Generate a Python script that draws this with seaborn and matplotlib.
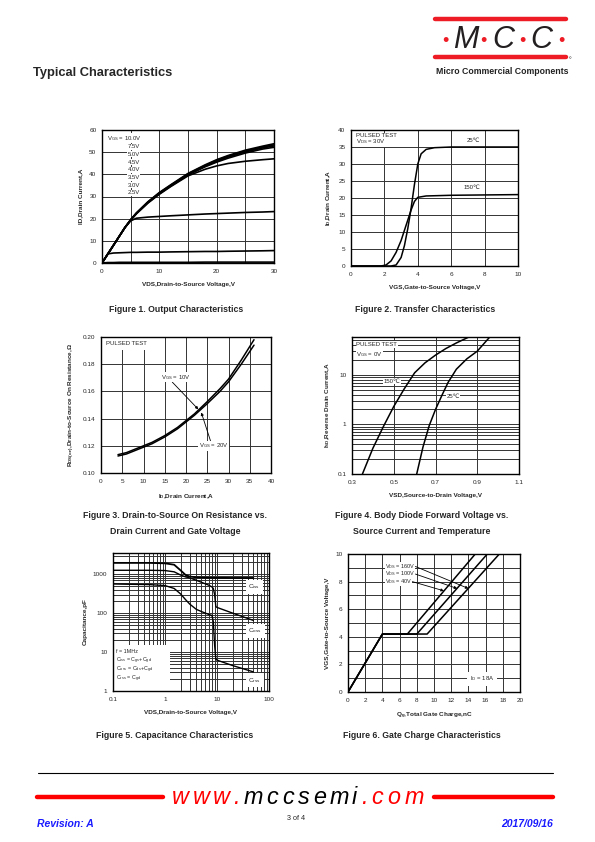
import numpy as np
import pandas as pd
import seaborn as sns
import matplotlib.pyplot as plt
from matplotlib.ticker import FixedLocator, NullFormatter

# ---- data ----
# Figure 1: output characteristics (VDS vs ID for each VGS)
vds = [0, 1, 2, 3, 4, 5, 6, 8, 10, 12, 15, 18, 20, 22, 25, 28, 30]
id_10v = [0, 4, 8, 12, 16, 19.6, 22.6, 27.6, 31.8, 35.3, 40.4, 44.3, 46.6, 48.5, 50.9, 52.7, 53.8]
id_75v = [0, 4, 8, 12, 16, 19.5, 22.5, 27.5, 31.6, 35.1, 40.2, 44.0, 46.3, 48.2, 50.5, 52.3, 53.3]
id_50v = [0, 4, 8, 12, 16, 19.4, 22.4, 27.3, 31.4, 34.9, 40.0, 43.7, 45.9, 47.8, 50.1, 51.9, 52.8]
id_45v = [0, 4, 8, 12, 16, 19.3, 22.3, 27.2, 31.2, 34.7, 39.7, 43.4, 45.5, 47.3, 49.6, 51.4, 52.2]
id_40v = [0, 4, 8, 12, 16, 19.3, 22.2, 27.0, 31.0, 34.5, 39.3, 42.3, 43.8, 44.9, 45.9, 46.6, 47.0]
id_35v = [0, 4, 8, 12, 16, 19.0, 20.2, 20.7, 21.0, 21.3, 21.7, 22.1, 22.3, 22.5, 22.8, 23.0, 23.2]
id_30v = [0, 4.1, 4.5, 4.6, 4.7, 4.8, 4.8, 4.9, 4.9, 5.0, 5.1, 5.2, 5.2, 5.3, 5.4, 5.5, 5.6]
id_25v = [0, 0.2, 0.2, 0.3, 0.3, 0.3, 0.3, 0.3, 0.3, 0.3, 0.3, 0.4, 0.4, 0.4, 0.4, 0.4, 0.4]
vgs_labels = ["7.5V", "5.0V", "4.5V", "4.0V", "3.5V", "3.0V", "2.5V"]

# Figure 2: transfer characteristics
vgs_25 = [0, 2.4, 2.7, 3.0, 3.2, 3.4, 3.6, 3.8, 4.0, 4.2, 4.5, 5.0, 6.0, 10.0]
id_25 = [0, 0, 0.3, 2.5, 6, 11, 17, 24, 30, 33, 34.3, 34.8, 35.0, 35.0]
vgs_150 = [0, 1.8, 2.1, 2.4, 2.7, 3.0, 3.3, 3.6, 3.8, 4.0, 4.5, 6.0, 10.0]
id_150 = [0, 0, 0.3, 1.5, 4, 7.5, 12, 16.5, 19, 20.2, 20.6, 20.8, 21.0]

# Figure 3: on resistance vs drain current
id_r = [4, 6, 8, 10, 12, 15, 18, 20, 22, 25, 28, 30, 33, 36]
rds_10v = [0.1135, 0.115, 0.1175, 0.120, 0.1225, 0.1275, 0.1335, 0.1385, 0.1435, 0.1525, 0.162, 0.169, 0.183, 0.198]
rds_20v = [0.1125, 0.114, 0.1165, 0.119, 0.1215, 0.1265, 0.1325, 0.1375, 0.1425, 0.1510, 0.160, 0.167, 0.180, 0.194]

# Figure 4: body diode forward voltage
vsd_150 = [0.35, 0.40, 0.45, 0.50, 0.55, 0.60, 0.65, 0.70, 0.75, 0.80, 0.86]
isd_150 = [0.1, 0.33, 0.9, 2.3, 5.2, 11, 17.5, 25, 34, 44, 58]
vsd_25 = [0.61, 0.64, 0.67, 0.70, 0.73, 0.76, 0.80, 0.85, 0.90, 0.96]
isd_25 = [0.1, 0.35, 0.95, 2.0, 3.8, 7, 13, 21, 30, 58]

# Figure 5: capacitance
vds_c = [0.1, 0.5, 1, 1.5, 2, 2.5, 3, 4, 5, 7, 8, 8.5, 9, 9.5, 10, 20, 50]
ciss = [1950, 1950, 1900, 1750, 1250, 950, 870, 830, 820, 810, 810, 805, 805, 805, 805, 800, 800]
coss = [1260, 1260, 1240, 1150, 950, 850, 800, 700, 620, 520, 470, 430, 300, 148, 140, 100, 65]
crss = [560, 540, 510, 430, 310, 220, 170, 125, 110, 92, 87, 60, 15, 6.6, 6.2, 4.5, 3.1]
cap_notes = ['f = 1MHz', 'C$_{iss}$ = C$_{gs}$+C$_{gd}$', 'C$_{oss}$ = C$_{ds}$+C$_{gd}$', 'C$_{rss}$ = C$_{gd}$']

# Figure 6: gate charge
qg_40 = [0, 4, 6.9, 14.8]
qg_100 = [0, 4, 8.0, 16.2]
qg_160 = [0, 4, 9.2, 17.6]
vgs_q = [0, 4.2, 4.2, 10]

sns.set_style("white")
plt.rcParams['font.family'] = ['Liberation Sans', 'DejaVu Sans']
plt.rcParams['mathtext.fontset'] = 'custom'
plt.rcParams['mathtext.rm'] = 'Liberation Sans'
plt.rcParams['mathtext.it'] = 'Liberation Sans:italic'
plt.rcParams['mathtext.bf'] = 'Liberation Sans:bold'
plt.rcParams['mathtext.default'] = 'regular'

W, H = 595, 842
fig = plt.figure(figsize=(W / 100, H / 100), dpi=100)
fig.patch.set_facecolor('white')

TICK = 4.6
LAB = 4.6
FAM = ['Liberation Sans', 'DejaVu Sans']
BOX = dict(fc='white', ec='none', pad=0.4)
TZ = 2.2  # boxed texts sit below the spines


def ax_px(l, t, r, b):
    return fig.add_axes([l / W, 1 - b / H, (r - l) / W, (b - t) / H])


def style(ax, xlabel, ylabel):
    for s in ax.spines.values():
        s.set_color('black')
        s.set_linewidth(1.0)
    ax.tick_params(labelsize=TICK, length=1.5, width=0.6, pad=2.5, which='major')
    ax.tick_params(which='minor', length=0)
    ax.set_xlabel(xlabel, fontsize=LAB, fontweight='bold', labelpad=6)
    ax.set_ylabel(ylabel, fontsize=LAB, fontweight='bold', labelpad=4)
    ax.set_axisbelow(True)


def line(ax, x, y, lw=1.1):
    sns.lineplot(x=x, y=y, ax=ax, color='black', lw=lw, estimator=None, sort=False, legend=False)


def px_text(x, y, s, **kw):
    fig.text(x / W, 1 - y / H, s, **kw)


# ---- Figure 1 ----
ax1 = ax_px(102, 130, 274, 263)
ax1.set_xlim(0, 30)
ax1.set_ylim(0, 60)
ax1.set_xticks([0, 10, 20, 30])
ax1.set_yticks(range(0, 61, 10))
ax1.xaxis.set_minor_locator(FixedLocator([5, 15, 25]))
ax1.grid(True, which='both', color='#333333', lw=0.7)
for ys in [id_10v, id_75v, id_50v, id_45v, id_40v, id_35v, id_30v, id_25v]:
    line(ax1, vds, ys, lw=1.2)
ax1.text(0.9, 56.3, 'V$_{GS}$ = 10.0V', fontsize=4.3, va='center', bbox=BOX, zorder=TZ)
for i, lab in enumerate(vgs_labels):
    ax1.text(6.6, 52.5 - i * 3.48, lab, fontsize=4.3, ha='right', va='center', bbox=BOX, zorder=TZ)
style(ax1, 'VDS,Drain-to-Source Voltage,V', 'ID,Drain Current,A')

# ---- Figure 2 ----
ax2 = ax_px(351, 130, 518, 266)
ax2.set_xlim(0, 10)
ax2.set_ylim(0, 40)
ax2.set_xticks(range(0, 11, 2))
ax2.set_yticks(range(0, 41, 5))
ax2.grid(True, color='#333333', lw=0.7)
line(ax2, vgs_25, id_25)
line(ax2, vgs_150, id_150)
ax2.text(0.28, 38.3, 'PULSED TEST', fontsize=4.3, va='center', bbox=BOX, zorder=TZ)
ax2.text(0.28, 36.6, 'V$_{DS}$ = 30V', fontsize=4.3, va='center', bbox=BOX, zorder=TZ)
ax2.text(6.95, 37.0, '25℃', fontsize=4.3, family=FAM, va='center', bbox=BOX, zorder=TZ)
ax2.text(6.75, 23.2, '150℃', fontsize=4.3, family=FAM, va='center', bbox=BOX, zorder=TZ)
style(ax2, 'VGS,Gate-to-Source Voltage,V', 'I$_D$,Drain Current,A')

# ---- Figure 3 ----
ax3 = ax_px(101, 337, 271, 473)
ax3.set_xlim(0, 40)
ax3.set_ylim(0.10, 0.20)
ax3.set_xticks(range(0, 41, 5))
ax3.set_yticks([0.10, 0.12, 0.14, 0.16, 0.18, 0.20])
ax3.set_yticklabels(['0.10', '0.12', '0.14', '0.16', '0.18', '0.20'])
ax3.grid(True, color='#333333', lw=0.7)
line(ax3, id_r, rds_10v)
line(ax3, id_r, rds_20v)
ax3.text(1.2, 0.1955, 'PULSED TEST', fontsize=4.3, va='center',
         bbox=dict(fc='white', ec='none', pad=3), zorder=TZ)
ax3.annotate('V$_{GS}$ = 10V', xy=(22.9, 0.1468), xytext=(14.2, 0.1705), fontsize=4.3,
             va='center', bbox=BOX, zorder=TZ,
             arrowprops=dict(arrowstyle='-|>', lw=0.6, color='black', mutation_scale=4,
                             shrinkA=0, shrinkB=0, relpos=(0.35, 0)))
ax3.annotate('V$_{GS}$ = 20V', xy=(23.6, 0.1445), xytext=(23.0, 0.1200), fontsize=4.3,
             va='center', bbox=BOX, zorder=TZ,
             arrowprops=dict(arrowstyle='-|>', lw=0.6, color='black', mutation_scale=4,
                             shrinkA=0, shrinkB=0, relpos=(0.4, 1)))
style(ax3, 'I$_D$,Drain Current,A', 'R$_{DS(on)}$,Drain-to-Source On Resistance,Ω')

# ---- Figure 4 ----
ax4 = ax_px(352, 337, 519, 474)
ax4.set_yscale('log')
ax4.set_xlim(0.3, 1.1)
ax4.set_ylim(0.1, 58)
ax4.set_xticks([0.3, 0.5, 0.7, 0.9, 1.1])
ax4.set_xticklabels(['0.3', '0.5', '0.7', '0.9', '1.1'])
ax4.yaxis.set_major_locator(FixedLocator([0.1, 1, 10]))
ax4.set_yticklabels(['0.1', '1', '10'])
ax4.yaxis.set_minor_locator(FixedLocator([0.2, 0.3, 0.4, 0.5, 0.6, 0.7, 0.8, 0.9,
                                          2, 3, 4, 5, 6, 7, 8, 9, 20, 30, 40, 50]))
ax4.yaxis.set_minor_formatter(NullFormatter())
ax4.grid(True, axis='y', which='both', color='#333333', lw=0.7)
for xv in [0.5, 0.7, 0.9]:
    ax4.axvline(xv, color='#333333', lw=0.7, zorder=0.5)
line(ax4, vsd_150, isd_150)
line(ax4, vsd_25, isd_25)
ax4.text(0.32, 41, 'PULSED TEST', fontsize=4.3, va='center', bbox=BOX, zorder=TZ)
ax4.text(0.32, 26, 'V$_{GS}$ = 0V', fontsize=4.3, va='center', bbox=BOX, zorder=TZ)
ax4.text(0.45, 7.4, '150℃', fontsize=4.3, family=FAM, va='center', bbox=BOX, zorder=TZ)
ax4.text(0.752, 3.7, '25℃', fontsize=4.3, family=FAM, va='center', bbox=BOX, zorder=TZ)
style(ax4, 'VSD,Source-to-Drain Voltage,V', 'I$_{SD}$,Reverse Drain Current,A')

# ---- Figure 5 ----
ax5 = ax_px(113, 553, 269, 691)
ax5.set_xscale('log')
ax5.set_yscale('log')
ax5.set_xlim(0.1, 100)
ax5.set_ylim(1, 3500)
ax5.xaxis.set_major_locator(FixedLocator([0.1, 1, 10, 100]))
ax5.set_xticklabels(['0.1', '1', '10', '100'])
ax5.yaxis.set_major_locator(FixedLocator([1, 10, 100, 1000]))
ax5.set_yticklabels(['1', '10', '100', '1000'])
ax5.xaxis.set_minor_locator(FixedLocator([m * d for d in [0.1, 1, 10] for m in range(2, 10)]))
ax5.yaxis.set_minor_locator(FixedLocator([m * d for d in [1, 10, 100] for m in range(2, 10)] + [2000, 3000]))
ax5.xaxis.set_minor_formatter(NullFormatter())
ax5.yaxis.set_minor_formatter(NullFormatter())
ax5.grid(True, which='both', color='#333333', lw=0.7)
line(ax5, vds_c, ciss, lw=1.3)
line(ax5, vds_c, coss, lw=1.0)
line(ax5, vds_c, crss, lw=1.0)
cbox = dict(fc='white', ec='none', pad=2)
ax5.text(40, 470, 'C$_{iss}$', fontsize=4.6, va='center', bbox=cbox, zorder=TZ)
ax5.text(40, 35, 'C$_{oss}$', fontsize=4.6, va='center', bbox=cbox, zorder=TZ)
ax5.text(40, 1.9, 'C$_{rss}$', fontsize=4.6, va='center', bbox=cbox, zorder=TZ)
# white panel behind the notes
ax5.axvspan(0.1, 1.25, ymin=0.0, ymax=0.33, color='white', lw=0, zorder=1.5)
for yv, note in zip([10.2, 6.0, 3.5, 2.0], cap_notes):
    ax5.text(0.115, yv, note, fontsize=3.9, va='center', zorder=TZ)
style(ax5, 'VDS,Drain-to-Source Voltage,V', 'Capacitance,pF')

# ---- Figure 6 ----
ax6 = ax_px(348, 554, 520, 692)
ax6.set_xlim(0, 20)
ax6.set_ylim(0, 10)
ax6.set_xticks(range(0, 21, 2))
ax6.set_yticks(range(0, 11, 2))
ax6.yaxis.set_minor_locator(FixedLocator([1, 3, 5, 7, 9]))
ax6.grid(True, which='both', color='#333333', lw=0.7)
line(ax6, qg_40, vgs_q)
line(ax6, qg_100, vgs_q)
line(ax6, qg_160, vgs_q)
arrow = dict(arrowstyle='-|>', lw=0.6, color='black', mutation_scale=4, shrinkA=0, shrinkB=0,
             relpos=(1, 0.5))
sbox = dict(fc='white', ec='none', pad=0.1)
ax6.annotate('V$_{DS}$ = 160V', xy=(14.0, 7.5), xytext=(4.3, 9.1), fontsize=4.0, va='center',
             bbox=sbox, arrowprops=arrow, zorder=TZ)
ax6.annotate('V$_{DS}$ = 100V', xy=(12.7, 7.5), xytext=(4.3, 8.55), fontsize=4.0, va='center',
             bbox=sbox, arrowprops=arrow, zorder=TZ)
ax6.annotate('V$_{DS}$ = 40V', xy=(11.15, 7.33), xytext=(4.3, 8.0), fontsize=4.0, va='center',
             bbox=sbox, arrowprops=arrow, zorder=TZ)
ax6.text(14.2, 0.95, 'I$_D$ = 18A', fontsize=4.3, va='center', bbox=cbox, zorder=TZ)
style(ax6, 'Q$_g$,Total Gate Charge,nC', 'VGS,Gate-to-Source Voltage,V')

# ---- captions ----
cap = dict(fontsize=6.3, fontweight='bold', ha='center', va='center')
px_text(176, 309, 'Figure 1. Output Characteristics', **cap)
px_text(425, 309, 'Figure 2. Transfer Characteristics', **cap)
px_text(175, 516, 'Figure 3. Drain-to-Source On Resistance vs.', **cap)
px_text(175, 531, 'Drain Current and Gate Voltage', **cap)
px_text(422, 516, 'Figure 4. Body Diode Forward Voltage vs.', **cap)
px_text(422, 531, 'Source Current and Temperature', **cap)
px_text(175, 735, 'Figure 5. Capacitance Characteristics', **cap)
px_text(422, 735, 'Figure 6. Gate Charge Characteristics', **cap)

# ---- header ----
red = '#ee1c25'
px_text(33, 73, 'Typical Characteristics', fontsize=9.3, fontweight='bold', va='center')
fig.add_artist(plt.Line2D([435 / W, 566 / W], [1 - 19 / H, 1 - 19 / H], color=red, lw=3.2))
fig.add_artist(plt.Line2D([435 / W, 566 / W], [1 - 57 / H, 1 - 57 / H], color=red, lw=3.2))
for xd in [445, 483, 522, 561]:
    px_text(xd, 41, '•', fontsize=13, color=red, ha='center', va='center')
for xl, ch in [(466, 'M'), (503, 'C'), (541, 'C')]:
    px_text(xl, 40, ch, fontsize=22, style='italic', color='#231f20', ha='center', va='center')
px_text(570, 61, '°', fontsize=5, ha='center', va='center')
px_text(502, 72, 'Micro Commercial Components', fontsize=6.3, fontweight='bold',
        ha='center', va='center', color='#222222')

# ---- footer ----
fig.add_artist(plt.Line2D([38 / W, 553 / W], [1 - 773 / H, 1 - 773 / H], color='black', lw=0.8))
fig.add_artist(plt.Line2D([37 / W, 163 / W], [1 - 797 / H, 1 - 797 / H], color='#ff0000', lw=3.2))
fig.add_artist(plt.Line2D([434 / W, 553 / W], [1 - 797 / H, 1 - 797 / H], color='#ff0000', lw=3.2))
url = 'www.mccsemi.com'
url_col = ['#ff0000'] * 4 + ['black'] * 7 + ['#ff0000'] * 4
adv = {'w': 20.5, '.': 10.5, 'm': 22, 'c': 15.8, 's': 15.8, 'e': 16.3, 'i': 9.5, 'o': 16.8}
xc = 172
for ch, col in zip(url, url_col):
    px_text(xc, 797, ch, fontsize=16.8, style='italic', color=col, va='center', ha='left')
    xc += adv[ch]
px_text(37, 824, 'Revision: A', fontsize=7.5, fontweight='bold', style='italic', color='#1a1aff', va='center')
px_text(296, 818, '3 of 4', fontsize=5.2, ha='center', va='center')
px_text(553, 824, '2017/09/16', fontsize=7.5, fontweight='bold', style='italic', color='#1a1aff',
        ha='right', va='center')

fig.savefig('out.png', dpi=100, facecolor='white')
